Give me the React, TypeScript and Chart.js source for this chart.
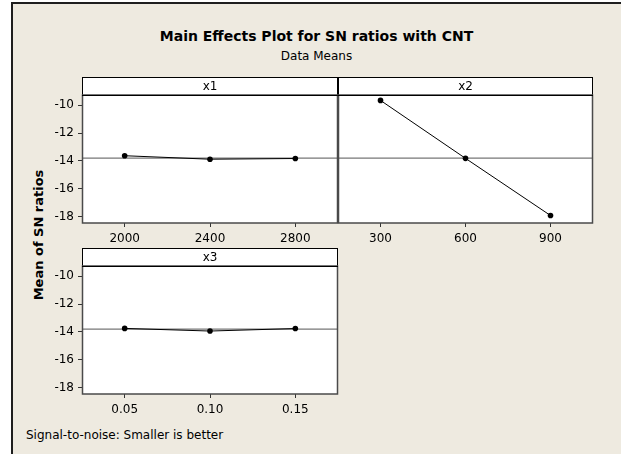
import React, { useEffect, useRef } from 'react';
import { Chart, registerables } from 'chart.js';

Chart.register(...registerables);

// ---- data ----
const x1Levels = [2000, 2400, 2800];
const x1Means = [-13.63, -13.88, -13.83];
const x1TickLabels = ['2000', '2400', '2800'];

const x2Levels = [300, 600, 900];
const x2Means = [-9.65, -13.82, -17.93];
const x2TickLabels = ['300', '600', '900'];

const x3Levels = [0.05, 0.1, 0.15];
const x3Means = [-13.75, -13.94, -13.76];
const x3TickLabels = ['0.05', '0.10', '0.15'];

const overallMean = -13.8;
const yTicks = [-10, -12, -14, -16, -18];
const yMin = -18.47;
const yMax = -9.26;

const FONT = '"DejaVu Sans", sans-serif';
const BEIGE = '#EEEAE0';

const panelPlugin = {
  id: 'panel',
  beforeDraw(chart: any, _args: any, opts: any) {
    const { ctx, chartArea: a } = chart;
    ctx.save();
    ctx.fillStyle = '#ffffff';
    ctx.fillRect(a.left, a.top, a.right - a.left, a.bottom - a.top);
    const sh = opts.stripH || 18;
    ctx.fillStyle = '#ffffff';
    ctx.fillRect(a.left, a.top - sh, a.right - a.left, sh);
    ctx.strokeStyle = '#000000';
    ctx.lineWidth = 1;
    ctx.strokeRect(a.left + 0.5, a.top - sh + 0.5, a.right - a.left - 1, sh);
    ctx.fillStyle = '#000000';
    ctx.font = `12px ${FONT}`;
    ctx.textAlign = 'center';
    ctx.textBaseline = 'middle';
    ctx.fillText(opts.label || '', (a.left + a.right) / 2, a.top - sh / 2 + 0.5);
    ctx.restore();
  },
  afterDraw(chart: any) {
    const { ctx, chartArea: a } = chart;
    ctx.save();
    ctx.strokeStyle = '#4a4a4a';
    ctx.lineWidth = 1.5;
    ctx.strokeRect(a.left + 0.5, a.top, a.right - a.left - 1, a.bottom - a.top);
    ctx.strokeStyle = '#000000';
    ctx.lineWidth = 1;
    ctx.beginPath();
    ctx.moveTo(a.left, a.top + 0.5);
    ctx.lineTo(a.right, a.top + 0.5);
    ctx.stroke();
    ctx.restore();
  },
};

type PanelProps = {
  left: number;
  top: number;
  w: number;
  h: number;
  padding: { left: number; right: number; top: number; bottom: number };
  xAxisH: number;
  yAxisW: number;
  showY: boolean;
  levels: number[];
  means: number[];
  tickLabels: string[];
  label: string;
};

function Panel(p: PanelProps) {
  const ref = useRef<HTMLCanvasElement | null>(null);
  useEffect(() => {
    if (!ref.current) return;
    const step = p.levels[1] - p.levels[0];
    const xmin = p.levels[0] - step / 2;
    const xmax = p.levels[p.levels.length - 1] + step / 2;
    const chart = new Chart(ref.current, {
      type: 'line',
      data: {
        datasets: [
          {
            data: p.levels.map((x, i) => ({ x, y: p.means[i] })),
            borderColor: '#000000',
            borderWidth: 1,
            pointRadius: 2.8,
            pointBackgroundColor: '#000000',
            pointBorderWidth: 0,
            tension: 0,
          },
          {
            data: [
              { x: xmin, y: overallMean },
              { x: xmax, y: overallMean },
            ],
            borderColor: '#777777',
            borderWidth: 1.3,
            pointRadius: 0,
            tension: 0,
          },
        ],
      },
      options: {
        animation: false,
        responsive: false,
        maintainAspectRatio: false,
        layout: { padding: p.padding },
        plugins: {
          legend: { display: false },
          tooltip: { enabled: false },
          title: { display: false },
          panel: { label: p.label, stripH: 18 },
        } as any,
        scales: {
          x: {
            type: 'linear',
            min: xmin,
            max: xmax,
            afterBuildTicks: (s: any) => {
              s.ticks = p.levels.map((v) => ({ value: v }));
            },
            afterFit: (s: any) => {
              s.height = p.xAxisH;
            },
            ticks: {
              autoSkip: false,
              maxRotation: 0,
              minRotation: 0,
              padding: 5,
              color: '#000000',
              font: { family: FONT, size: 12 },
              callback: (_v: any, i: number) => p.tickLabels[i],
            },
            grid: {
              drawOnChartArea: false,
              drawTicks: true,
              tickLength: 4,
              color: '#333333',
              lineWidth: 1,
            },
            border: { display: false },
          },
          y: {
            type: 'linear',
            display: p.showY,
            min: yMin,
            max: yMax,
            afterBuildTicks: (s: any) => {
              s.ticks = yTicks.map((v) => ({ value: v }));
            },
            afterFit: (s: any) => {
              s.width = p.yAxisW;
            },
            ticks: {
              padding: 4,
              color: '#000000',
              font: { family: FONT, size: 12 },
              callback: (v: any) => String(v),
            },
            grid: {
              drawOnChartArea: false,
              drawTicks: true,
              tickLength: 4,
              color: '#333333',
              lineWidth: 1,
            },
            border: { display: false },
          },
        },
      } as any,
      plugins: [panelPlugin as any],
    });
    return () => chart.destroy();
  }, []);
  return (
    <canvas
      ref={ref}
      width={p.w}
      height={p.h}
      style={{ position: 'absolute', left: p.left, top: p.top, width: p.w, height: p.h }}
    />
  );
}

export default function App() {
  return (
    <div
      style={{
        position: 'fixed',
        left: 0,
        top: 0,
        width: 621,
        height: 454,
        background: '#ffffff',
        overflow: 'hidden',
        fontFamily: FONT,
        color: '#000',
      }}
    >
      <div
        style={{
          position: 'absolute',
          left: 11,
          top: 2,
          right: 0,
          bottom: 0,
          background: BEIGE,
          borderLeft: '2px solid #1e1e1e',
          borderTop: '2px solid #1e1e1e',
        }}
      />
      <div
        style={{
          position: 'absolute',
          left: 12,
          width: 609,
          top: 29,
          textAlign: 'center',
          fontSize: 14,
          lineHeight: '14px',
          fontWeight: 'bold',
          whiteSpace: 'nowrap',
        }}
      >
        Main Effects Plot for SN ratios with CNT
      </div>
      <div
        style={{
          position: 'absolute',
          left: 12,
          width: 609,
          top: 49.5,
          textAlign: 'center',
          fontSize: 12,
          lineHeight: '12px',
          whiteSpace: 'nowrap',
        }}
      >
        Data Means
      </div>
      <div
        style={{
          position: 'absolute',
          left: 38,
          top: 235,
          transform: 'translate(-50%, -50%) rotate(-90deg)',
          fontSize: 13,
          lineHeight: '13px',
          fontWeight: 'bold',
          whiteSpace: 'nowrap',
        }}
      >
        Mean of SN ratios
      </div>
      <div
        style={{
          position: 'absolute',
          left: 26,
          top: 429,
          fontSize: 12,
          lineHeight: '12px',
          whiteSpace: 'nowrap',
        }}
      >
        Signal-to-noise: Smaller is better
      </div>
      <Panel
        left={30}
        top={70}
        w={320}
        h={190}
        padding={{ left: 0, right: 12, top: 25, bottom: 0 }}
        xAxisH={37}
        yAxisW={52}
        showY={true}
        levels={x1Levels}
        means={x1Means}
        tickLabels={x1TickLabels}
        label="x1"
      />
      <Panel
        left={330}
        top={70}
        w={291}
        h={190}
        padding={{ left: 8, right: 28, top: 25, bottom: 0 }}
        xAxisH={37}
        yAxisW={0}
        showY={false}
        levels={x2Levels}
        means={x2Means}
        tickLabels={x2TickLabels}
        label="x2"
      />
      <Panel
        left={30}
        top={241}
        w={320}
        h={190}
        padding={{ left: 0, right: 12, top: 25, bottom: 0 }}
        xAxisH={37}
        yAxisW={52}
        showY={true}
        levels={x3Levels}
        means={x3Means}
        tickLabels={x3TickLabels}
        label="x3"
      />
    </div>
  );
}
